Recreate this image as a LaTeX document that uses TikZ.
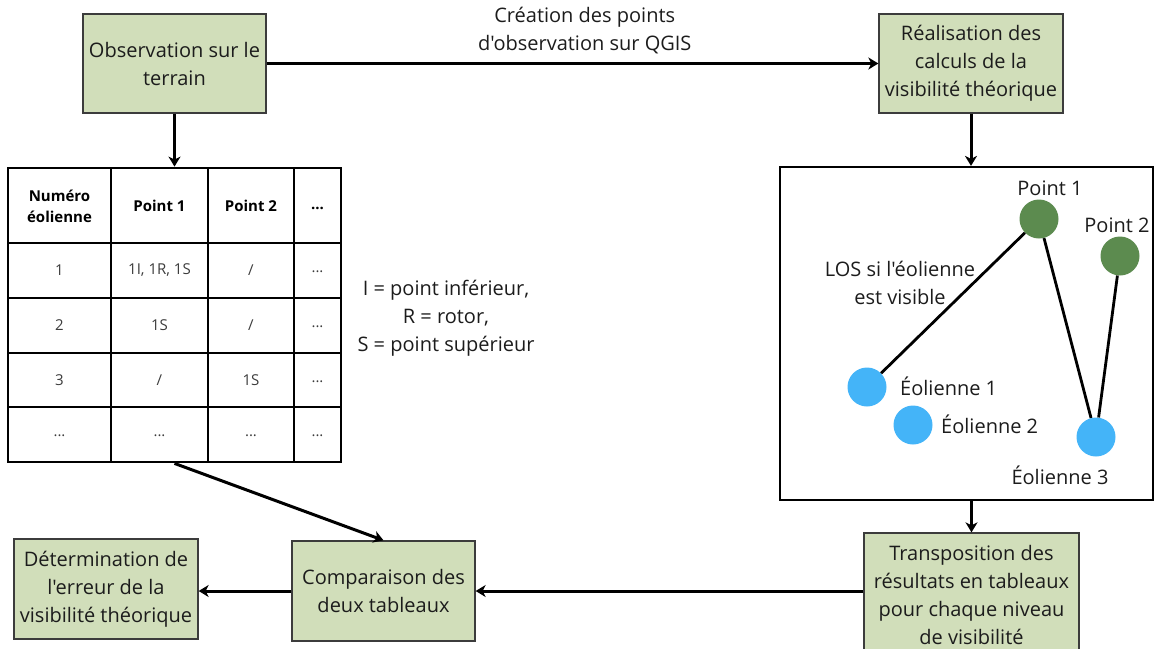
\documentclass[tikz,border=0pt]{standalone}
\usepackage{fontspec}
\setmainfont{Open Sans}[Ligatures=TeXOff]
\usetikzlibrary{arrows.meta}

\definecolor{boxgreen}{RGB}{209,222,186}
\definecolor{boxline}{RGB}{60,60,60}
\definecolor{ptgreen}{RGB}{92,139,79}
\definecolor{eolblue}{RGB}{68,180,248}
\definecolor{txt}{RGB}{28,28,28}
\definecolor{celltxt}{RGB}{60,60,60}

\begin{document}
\begin{tikzpicture}[x=1pt,y=-1pt,
  stepbox/.style={draw=boxline, line width=1.3pt, fill=boxgreen, align=center,
    inner sep=0pt, font=\fontsize{20}{28}\selectfont, text=txt},
  plain/.style={align=center, inner sep=0pt, font=\fontsize{20}{28}\selectfont, text=txt},
  arr/.style={line width=3pt, -{Stealth[length=10pt,width=12pt,inset=3pt]}},
  grid/.style={line width=2.8pt},
  head/.style={inner sep=0pt, align=center, font=\bfseries\fontsize{15}{21}\selectfont, text=black},
  cell/.style={inner sep=0pt, align=center, font=\fontsize{15}{21}\selectfont, text=celltxt},
  pt/.style={circle, fill=ptgreen, minimum size=39pt, inner sep=0pt},
  eol/.style={circle, fill=eolblue, minimum size=39pt, inner sep=0pt},
  los/.style={line width=2.8pt},
]
\useasboundingbox (0,0) rectangle (1154,648);

% process steps
\node[stepbox, minimum width=183pt, minimum height=99pt] (obs) at (174.5,63.5)
  {Observation sur le\\terrain};
\node[stepbox, minimum width=184pt, minimum height=99pt] (real) at (971,63.5)
  {Réalisation des\\calculs de la\\visibilité théorique};
\node[stepbox, minimum width=183pt, minimum height=100pt] (comp) at (383.5,591)
  {Comparaison des\\deux tableaux};
\node[stepbox, minimum width=184pt, minimum height=100pt] (det) at (106,589)
  {Détermination de\\l'erreur de la\\visibilité théorique};
\node[stepbox, minimum width=215pt, minimum height=123pt] (trans) at (971.5,594.5)
  {Transposition des\\résultats en tableaux\\pour chaque niveau\\de visibilité};

% observation table
\node[draw, grid, minimum width=333pt, minimum height=294pt, inner sep=0pt] (tbl) at (174.5,315) {};
\foreach \yy in {243,298,353,407} \draw[grid] (8,\yy) -- (341,\yy);
\foreach \xx in {111,208,294} \draw[grid] (\xx,168) -- (\xx,462);
\node[head] at (59.5,206) {Numéro\\éolienne};
\node[head] at (159.5,206) {Point 1};
\node[head] at (251,206) {Point 2};
\node[head] at (317.5,208) {...};
\node[cell] at (59.5,270.5) {1};
\node[cell] at (159.5,270.5) {1I, 1R, 1S};
\node[cell] at (251,270.5) {/};
\node[cell] at (317.5,272) {...};
\node[cell] at (59.5,325.5) {2};
\node[cell] at (159.5,325.5) {1S};
\node[cell] at (251,325.5) {/};
\node[cell] at (317.5,327) {...};
\node[cell] at (59.5,380) {3};
\node[cell] at (159.5,380) {/};
\node[cell] at (251,380) {1S};
\node[cell] at (317.5,382) {...};
\node[cell] at (59.5,436) {...};
\node[cell] at (159.5,436) {...};
\node[cell] at (251,436) {...};
\node[cell] at (317.5,436) {...};

% legend of the table codes
\node[plain] (legend) at (446,318) {I = point inférieur,\\R = rotor,\\S = point supérieur};

% visibility sketch
\node[draw, line width=2.2pt, minimum width=373pt, minimum height=333pt, inner sep=0pt] (panel) at (966.5,333.5) {};
\node[pt] (p1) at (1039,219) {};
\node[pt] (p2) at (1120,256) {};
\node[eol] (e1) at (867,387) {};
\node[eol] (e2) at (913,425) {};
\node[eol] (e3) at (1096,437) {};
\draw[los] (p1) -- (e1);
\draw[los] (p1) -- (e3);
\draw[los] (p2) -- (e3);
\node[plain] (lp1) at (1050,188) {Point 1};
\node[plain] (lp2) at (1117,225) {Point 2};
\node[plain] (llos) at (900,283) {LOS si l'éolienne\\est visible};
\node[plain, anchor=west] (le1) at (900,386) {Éolienne 1};
\node[plain, anchor=west] (le2) at (941,424) {Éolienne 2};
\node[plain] (le3) at (1060,475) {Éolienne 3};

% connectors
\draw[arr] (obs.east) -- (real.west)
  node[plain, pos=0.52, above=8pt] {Création des points\\d'observation sur QGIS};
\draw[arr] (obs.south) -- (tbl.north);
\draw[arr] (real.south) -- (real.south |- panel.north);
\draw[arr] (trans.north |- panel.south) -- (trans.north);
\draw[arr] (tbl.south) -- (comp.north);
\draw[arr] (trans.west |- comp.east) -- (comp.east);
\draw[arr] (comp.west) -- (det.east |- comp.west);
\end{tikzpicture}
\end{document}
